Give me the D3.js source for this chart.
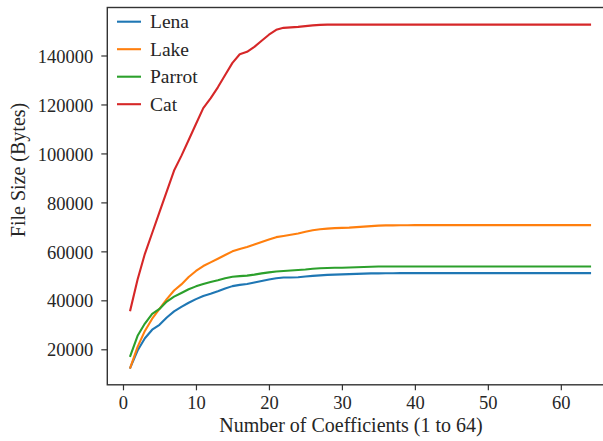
<!DOCTYPE html>
<html>
<head>
<meta charset="utf-8">
<script src="https://cdn.jsdelivr.net/npm/d3@7"></script>
<style>
  body { margin: 0; background: #fff; }
  text { font-family: "Liberation Serif", "DejaVu Serif", serif; fill: #262626; }
</style>
</head>
<body>
<div id="vis"></div>
<script>
var width = 603,
	height = 441;

// number of coefficients kept, 1..64
var coeffs = d3.range(1, 65);

var seriesNames = ["Lena", "Lake", "Parrot", "Cat"];
var seriesColors = ["#1f77b4", "#ff7f0e", "#2ca02c", "#d62728"];

var lena = [12500, 19500, 24500, 28000, 30000, 33000, 35500, 37300, 39000, 40500,
	41800, 42700, 43700, 44800, 45800, 46300, 46700, 47300, 47900, 48500,
	49000, 49300, 49300, 49400, 49700, 50000, 50200, 50400, 50500, 50600,
	50700, 50800, 50900, 51000, 51000, 51050, 51050, 51100, 51100, 51100,
	51100, 51100, 51100, 51100, 51100, 51100, 51100, 51100, 51100, 51100,
	51100, 51100, 51100, 51100, 51100, 51100, 51100, 51100, 51100, 51100,
	51100, 51100, 51100, 51100];

var lake = [12500, 21000, 27500, 32500, 36500, 40500, 44000, 46500, 49500, 52000,
	54000, 55500, 57000, 58500, 60000, 61000, 61800, 62800, 63800, 64800,
	65800, 66300, 66800, 67300, 68000, 68600, 69000, 69300, 69500, 69600,
	69700, 69900, 70100, 70300, 70500, 70600, 70600, 70650, 70650, 70700,
	70700, 70700, 70700, 70700, 70700, 70700, 70700, 70700, 70700, 70700,
	70700, 70700, 70700, 70700, 70700, 70700, 70700, 70700, 70700, 70700,
	70700, 70700, 70700, 70700];

var parrot = [17300, 25500, 30500, 34500, 36500, 39500, 41500, 43000, 44500, 45700,
	46700, 47500, 48200, 49000, 49600, 49900, 50100, 50500, 51000, 51400,
	51800, 52000, 52200, 52400, 52600, 52900, 53100, 53200, 53300, 53300,
	53400, 53500, 53600, 53700, 53800, 53800, 53800, 53800, 53800, 53800,
	53800, 53800, 53800, 53800, 53800, 53800, 53800, 53800, 53800, 53800,
	53800, 53800, 53800, 53800, 53800, 53800, 53800, 53800, 53800, 53800,
	53800, 53800, 53800, 53800];

var cat = [36000, 48500, 59000, 67500, 76000, 84500, 93000, 99000, 105500, 112000,
	118500, 122500, 127000, 132000, 137000, 140500, 141500, 143500, 146000, 148500,
	150500, 151300, 151500, 151700, 152000, 152300, 152500, 152600, 152600, 152600,
	152600, 152600, 152600, 152600, 152600, 152600, 152600, 152600, 152600, 152600,
	152600, 152600, 152600, 152600, 152600, 152600, 152600, 152600, 152600, 152600,
	152600, 152600, 152600, 152600, 152600, 152600, 152600, 152600, 152600, 152600,
	152600, 152600, 152600, 152600];

var xTicks = [0, 10, 20, 30, 40, 50, 60];
var yTicks = [20000, 40000, 60000, 80000, 100000, 120000, 140000];

var allSeries = [lena, lake, parrot, cat];

// axes box (right spine falls just outside the picture)
var plotLeft = 107.3, plotRight = 613, plotTop = 7.5, plotBottom = 384.8;

function padded(ext) {
	var p = (ext[1] - ext[0]) * 0.05;
	return [ext[0] - p, ext[1] + p];
}

var x = d3.scaleLinear()
	.domain(padded(d3.extent(coeffs)))
	.range([plotLeft, plotRight]);

var y = d3.scaleLinear()
	.domain(padded([d3.min(allSeries, function(s) { return d3.min(s); }),
		d3.max(allSeries, function(s) { return d3.max(s); })]))
	.range([plotBottom, plotTop]);

var svg = d3.select('#vis')
	.append('svg')
	.attr('width', width)
	.attr('height', height);

var line = d3.line()
	.x(function(d, i) { return x(coeffs[i]); })
	.y(function(d) { return y(d); });

svg.append('g')
	.selectAll('path')
	.data(allSeries)
	.enter()
	.append('path')
	.attr('d', line)
	.attr('fill', 'none')
	.attr('stroke', function(d, i) { return seriesColors[i]; })
	.attr('stroke-width', 2.1)
	.attr('stroke-linejoin', 'round')
	.attr('stroke-linecap', 'square');

// axes
var xAxis = svg.append('g')
	.attr('transform', 'translate(0,' + plotBottom + ')')
	.call(d3.axisBottom(x).tickValues(xTicks).tickSize(5.5).tickPadding(4).tickFormat(d3.format('d')));

var yAxis = svg.append('g')
	.attr('transform', 'translate(' + plotLeft + ',0)')
	.call(d3.axisLeft(y).tickValues(yTicks).tickSize(6).tickPadding(8).tickFormat(d3.format('d')));

[xAxis, yAxis].forEach(function(a) {
	a.select('.domain').remove();
	a.attr('font-family', null);
	a.selectAll('line').attr('stroke', '#333').attr('stroke-width', 1.2);
	a.selectAll('text')
		.style('font-family', '"Liberation Serif", serif')
		.style('font-size', '18.5px')
		.attr('fill', '#262626');
});
yAxis.selectAll('text').attr('dy', '0.36em');
xAxis.selectAll('text').attr('dy', '0.8em');

// spines
svg.append('rect')
	.attr('x', plotLeft)
	.attr('y', plotTop)
	.attr('width', plotRight - plotLeft)
	.attr('height', plotBottom - plotTop)
	.attr('fill', 'none')
	.attr('stroke', '#333')
	.attr('stroke-width', 1.4);

// axis labels
svg.append('text')
	.attr('x', 351)
	.attr('y', 432)
	.attr('text-anchor', 'middle')
	.style('font-size', '20px')
	.text('Number of Coefficients (1 to 64)');

svg.append('text')
	.attr('transform', 'translate(25,170) rotate(-90)')
	.attr('text-anchor', 'middle')
	.style('font-size', '20px')
	.text('File Size (Bytes)');

// legend
var legend = svg.append('g')
	.selectAll('g')
	.data(seriesNames)
	.enter()
	.append('g')
	.attr('transform', function(d, i) { return 'translate(0,' + (21.7 + i * 27.5) + ')'; });

legend.append('line')
	.attr('x1', 117)
	.attr('x2', 141)
	.attr('stroke', function(d, i) { return seriesColors[i]; })
	.attr('stroke-width', 2.1);

legend.append('text')
	.attr('x', 150)
	.attr('dy', '0.33em')
	.style('font-size', '19.5px')
	.text(function(d) { return d; });
</script>
</body>
</html>
